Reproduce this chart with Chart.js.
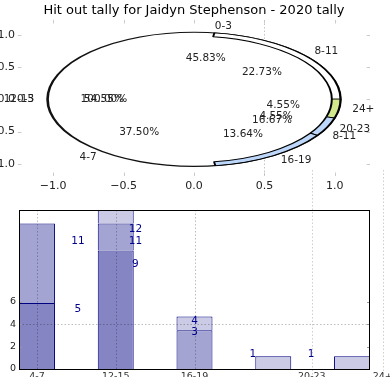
<!DOCTYPE html>
<html><head><meta charset="utf-8">
<script src="https://cdn.jsdelivr.net/npm/chart.js@4"></script>
<style>
html,body{margin:0;padding:0;background:#fff;}
#wrap{position:relative;width:390px;height:390px;overflow:hidden;background:#fff;}
canvas{position:absolute;left:0;}
#axesTop,#solo,#pie{top:0;}
#bars{top:160px;}
</style></head><body>
<div id="wrap">
<canvas id="axesTop" width="390" height="200"></canvas>
<canvas id="solo" width="390" height="200"></canvas>
<canvas id="pie" width="390" height="200"></canvas>
<canvas id="bars" width="390" height="230"></canvas>
</div>
<script>
// ---------- data ----------
const chartTitle = 'Hit out tally for Jaidyn Stephenson - 2020 tally';
const topTicks = [-1.0, -0.5, 0.0, 0.5, 1.0];
const topGridX = [0.5];

// thin outer ring (clockwise from its start angle)
const ringLabels = ['8-11', '24+', '20-23', '16-19', '12-15'];
const ringCounts = [5, 1, 1, 3, 12];
const ringColors = ['#ffffff', '#d2e98e', '#bdd7fa', '#bdd7fa', 'rgba(255,255,255,0)'];
const ringEdges  = ['#000000', '#000000', '#000000', '#000000', 'rgba(0,0,0,0)'];

// inner white pie (counter-clockwise from 0°)
const innerLabels = ['0-3', '4-7', '8-11'];
const innerCounts = [11, 9, 4];

// single-wedge pie underneath
const soloLabels = ['0-3'];
const soloCounts = [1];

// stacked bars
const barCategories = ['4-7', '12-15', '16-19', '20-23', '24+'];
const darkValues  = [5.87, 10.55, null, null, null];
const midValues   = [7.08, 2.40, 3.44, null, null];
const lightValues = [null, 1.80, 1.24, 1.13, 1.13];
const barYTicks = [0, 2, 4, 6];
const barTickLabels = ['4-7', '12-15', '16-19', '20-23', '24+'];
const barTickPos = [0, 1, 2, 3.49, 4.39];
const barGridX = [0, 1, 2];
const barOuterGridX = [3.49, 4.39];
const barGridY = [4];
const noteTexts = ['11', '5', '12', '11', '9', '4', '3', '1', '1'];
const noteX = [0.52, 0.52, 1.25, 1.25, 1.25, 2.0, 2.0, 2.74, 3.48];
const noteY = [11.33, 5.31, 12.44, 11.38, 9.33, 4.27, 3.29, 1.31, 1.31];

// ---------- settings ----------
const FONT = 'DejaVu Sans';
Chart.defaults.font.family = FONT;
Chart.defaults.animation = false;
const PIE_RADIUS = 1.04, LABEL_DIST = 1.135, PCT_DIST = 0.64, RING_START = 8;

function fmtTick(v){ return (v < 0 ? '\u2212' : '') + Math.abs(v).toFixed(1); }
function seg(ctx, x1, y1, x2, y2){ ctx.beginPath(); ctx.moveTo(x1, y1); ctx.lineTo(x2, y2); ctx.stroke(); }

// ---------- top axes ----------
const topDecor = {
  id: 'topDecor',
  afterDraw(chart){
    const {ctx, chartArea: a, scales: {x, y}} = chart;
    ctx.save();
    ctx.fillStyle = '#000'; ctx.font = '13px "' + FONT + '"';
    ctx.textAlign = 'center'; ctx.textBaseline = 'middle';
    ctx.fillText(chartTitle, (a.left + a.right) / 2, 10.5);
    ctx.strokeStyle = '#cccccc'; ctx.lineWidth = 1;
    topTicks.forEach(v => {
      const px = Math.round(x.getPixelForValue(v)) + 0.5;
      seg(ctx, px, a.top, px, a.top + 3.5);
      seg(ctx, px, a.bottom - 3.5, px, a.bottom);
      const py = Math.round(y.getPixelForValue(v)) + 0.5;
      seg(ctx, a.left, py, a.left + 3.5, py);
      seg(ctx, a.right - 3.5, py, a.right, py);
    });
    ctx.setLineDash([1.5, 2]); ctx.strokeStyle = '#c4c4c4';
    topGridX.forEach(v => {
      const px = Math.round(x.getPixelForValue(v)) + 0.5;
      seg(ctx, px, a.top, px, a.bottom + 1);
    });
    ctx.restore();
  }
};

const axesChart = new Chart(document.getElementById('axesTop'), {
  type: 'scatter',
  data: { datasets: [] },
  options: {
    responsive: false, animation: false,
    layout: { padding: { left: 0, right: 20, top: 20, bottom: 0 } },
    plugins: { legend: { display: false }, tooltip: { enabled: false }, title: { display: false } },
    scales: {
      x: { type: 'linear', min: -1.25, max: 1.25,
           grid: { display: false, drawTicks: false }, border: { display: false },
           afterBuildTicks: s => { s.ticks = topTicks.map(v => ({ value: v })); },
           afterFit: s => { s.height = 24; },
           ticks: { callback: fmtTick, font: { size: 11 }, color: '#222', padding: 3.5, maxRotation: 0, autoSkip: false } },
      y: { type: 'linear', min: -1.19, max: 1.23,
           grid: { display: false, drawTicks: false }, border: { display: false },
           afterBuildTicks: s => { s.ticks = topTicks.map(v => ({ value: v })); },
           afterFit: s => { s.width = 18; },
           ticks: { callback: fmtTick, font: { size: 11 }, color: '#222', padding: 3, autoSkip: false } }
    }
  },
  plugins: [topDecor]
});

// ---------- elliptical pies ----------
const xs = axesChart.scales.x, ys = axesChart.scales.y;
const cx = xs.getPixelForValue(0), cy = ys.getPixelForValue(0);
const ux = xs.getPixelForValue(1) - cx, uy = cy - ys.getPixelForValue(1);
const SX = ux / uy;
const R = PIE_RADIUS * uy;
const pad = R + 2;
const innerCW = innerCounts.slice().reverse();
const innerLabelsCW = innerLabels.slice().reverse();
const pieLayout = { padding: { left: cx - pad, right: 390 - cx - pad, top: cy - pad, bottom: 200 - cy - pad } };

function putPieText(ctx, mid, label, frac){
  const c = Math.cos(mid), s = Math.sin(mid);
  ctx.textBaseline = 'middle';
  ctx.textAlign = c > 0 ? 'left' : 'right';
  ctx.fillText(label, cx + ux * LABEL_DIST * c, cy + uy * LABEL_DIST * s);
  ctx.textAlign = 'center';
  ctx.fillText((frac * 100).toFixed(2) + '%', cx + ux * PCT_DIST * c, cy + uy * PCT_DIST * s);
}
function pieTexts(ctx, arcs, labels, counts){
  const total = counts.reduce((p, q) => p + q, 0);
  arcs.forEach((arc, i) => putPieText(ctx, (arc.startAngle + arc.endAngle) / 2, labels[i], counts[i] / total));
}

const ellipse = {
  id: 'ellipse',
  beforeDatasetsDraw(chart){
    const c = chart.ctx; const a = chart.getDatasetMeta(0).data[0];
    c.save(); c.translate(a.x, a.y); c.scale(SX, 1); c.translate(-a.x, -a.y);
  },
  afterDatasetsDraw(chart){ chart.ctx.restore(); }
};

const pieText = {
  id: 'pieText',
  afterDatasetsDraw(chart){
    const ctx = chart.ctx;
    ctx.save();
    ctx.fillStyle = '#222'; ctx.font = '10.5px "' + FONT + '"';
    pieTexts(ctx, chart.getDatasetMeta(0).data, ringLabels, ringCounts);
    pieTexts(ctx, chart.getDatasetMeta(1).data, innerLabelsCW, innerCW);
    pieTexts(ctx, soloChart.getDatasetMeta(0).data, soloLabels, soloCounts);
    ctx.restore();
  }
};

const soloChart = new Chart(document.getElementById('solo'), {
  type: 'pie',
  data: { labels: soloLabels, datasets: [
    { data: soloCounts, backgroundColor: '#ffffff', borderColor: '#111', borderWidth: 1.2,
      rotation: 90, radius: R, clip: false }
  ]},
  options: { responsive: false, animation: false, radius: R, layout: pieLayout,
    plugins: { legend: { display: false }, tooltip: { enabled: false } } },
  plugins: [ellipse]
});

new Chart(document.getElementById('pie'), {
  type: 'doughnut',
  data: {
    labels: ringLabels,
    datasets: [
      { data: ringCounts, backgroundColor: ringColors, borderColor: ringEdges, borderWidth: 0.9,
        weight: 1, rotation: RING_START, radius: R, clip: false },
      { data: innerCW, backgroundColor: '#ffffff', borderColor: '#ffffff', borderWidth: 1.5,
        weight: 16, rotation: 90, radius: R, clip: false }
    ]
  },
  options: {
    responsive: false, animation: false, cutout: 0, radius: R, layout: pieLayout,
    plugins: { legend: { display: false }, tooltip: { enabled: false } }
  },
  plugins: [ellipse, pieText]
});

// ---------- stacked bars ----------
const barDecor = {
  id: 'barDecor',
  afterDatasetsDraw(chart){
    const {ctx, chartArea: a, scales: {x, y}} = chart;
    ctx.save();
    ctx.lineWidth = 1;
    ctx.setLineDash([1.5, 2]);
    ctx.strokeStyle = 'rgba(0,0,0,0.26)';
    barGridX.forEach(v => { const px = Math.round(x.getPixelForValue(v)) + 0.5; seg(ctx, px, a.top, px, a.bottom); });
    barGridY.forEach(v => { const py = Math.round(y.getPixelForValue(v)) + 0.5; seg(ctx, a.left, py, a.right, py); });
    ctx.strokeStyle = '#cfcfcf';
    barOuterGridX.forEach(v => { const px = Math.round(x.getPixelForValue(v)) + 0.5; seg(ctx, px, 10, px, a.bottom + 8); });
    ctx.setLineDash([]);
    ctx.strokeStyle = '#9a9a9a';
    barYTicks.forEach(v => {
      const py = Math.round(y.getPixelForValue(v)) + 0.5;
      seg(ctx, a.left, py, a.left + 3, py);
      seg(ctx, a.right - 3, py, a.right, py);
    });
    ctx.strokeStyle = '#000';
    ctx.strokeRect(Math.round(a.left) + 0.5, Math.round(a.top) + 0.5, Math.round(a.right - a.left) - 1, Math.round(a.bottom - a.top));
    // notes
    ctx.fillStyle = '#00008b'; ctx.font = '10.5px "' + FONT + '"';
    ctx.textAlign = 'center'; ctx.textBaseline = 'middle';
    noteTexts.forEach((t, i) => ctx.fillText(t, x.getPixelForValue(noteX[i]), y.getPixelForValue(noteY[i])));
    // category labels, cut off just below the frame
    ctx.fillStyle = '#333'; ctx.font = '9.5px "' + FONT + '"'; ctx.textBaseline = 'top';
    barTickLabels.forEach((t, i) => ctx.fillText(t, x.getPixelForValue(barTickPos[i]), a.bottom + 3));
    ctx.fillStyle = '#fff';
    ctx.fillRect(0, Math.round(a.bottom) + 8, chart.width, chart.height);
    ctx.restore();
  }
};

function pts(arr){ return arr.map((v, i) => ({ x: i, y: v })).filter(p => p.y !== null); }
const barCommon = { borderColor: '#000080', borderWidth: { top: 1, left: 1, right: 1, bottom: 0 },
                    borderSkipped: false, barPercentage: 0.4566, categoryPercentage: 1.0 };

new Chart(document.getElementById('bars'), {
  type: 'bar',
  data: {
    labels: barCategories,
    datasets: [
      Object.assign({ label: 'dark', data: pts(darkValues), backgroundColor: '#8585c4' }, barCommon),
      Object.assign({ label: 'mid', data: pts(midValues), backgroundColor: '#a4a4d2' }, barCommon),
      Object.assign({ label: 'light', data: pts(lightValues), backgroundColor: '#cbcbe5' }, barCommon)
    ]
  },
  options: {
    responsive: false, animation: false,
    layout: { padding: { left: 0, right: 20, top: 50, bottom: 21 } },
    plugins: { legend: { display: false }, tooltip: { enabled: false } },
    scales: {
      x: { type: 'linear', min: -0.2283, max: 4.2283, stacked: true, offset: false, display: false,
           grid: { offset: false } },
      y: { type: 'linear', min: 0, max: 14.15, stacked: true,
           grid: { display: false, drawTicks: false }, border: { display: false },
           afterBuildTicks: s => { s.ticks = barYTicks.map(v => ({ value: v })); },
           afterFit: s => { s.width = 19; },
           ticks: { font: { size: 9.5 }, color: '#222', padding: 3, autoSkip: false } }
    }
  },
  plugins: [barDecor]
});
</script>
</body></html>
